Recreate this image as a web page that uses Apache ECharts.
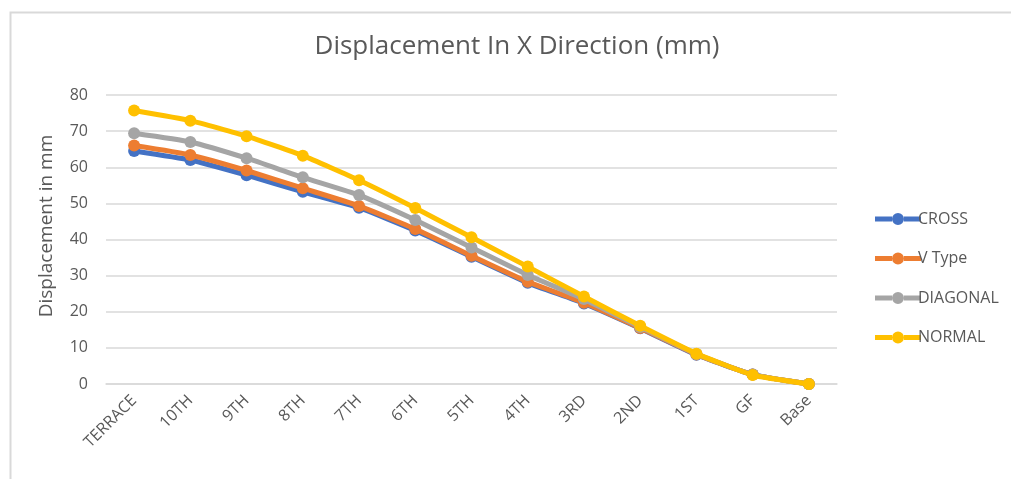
<!DOCTYPE html>
<html>
<head>
<meta charset="utf-8">
<script src="https://cdn.jsdelivr.net/npm/echarts@6/dist/echarts.min.js"></script>
<style>
html,body{margin:0;padding:0;background:#fff;}
#main{width:1011px;height:479px;}
</style>
</head>
<body>
<div id="main"></div>
<script>
// floors, top to bottom
var floors = ['TERRACE','10TH','9TH','8TH','7TH','6TH','5TH','4TH','3RD','2ND','1ST','GF','Base'];
var yTicks = [0,10,20,30,40,50,60,70,80];

// displacement values (mm)
var crossVals    = [64.5, 62.0, 57.8, 53.2, 48.8, 42.5, 35.2, 28.0, 22.3, 15.4, 8.1, 2.6, 0];
var vTypeVals    = [66.0, 63.4, 59.1, 54.2, 49.3, 42.9, 35.5, 28.3, 22.5, 15.5, 8.2, 2.6, 0];
var diagonalVals = [69.4, 67.0, 62.5, 57.2, 52.3, 45.4, 37.8, 30.2, 23.5, 15.8, 8.3, 2.6, 0];
var normalVals   = [75.7, 72.9, 68.6, 63.2, 56.4, 48.7, 40.6, 32.5, 24.2, 16.1, 8.4, 2.5, 0];

var seriesNames = ['CROSS','V Type','DIAGONAL','NORMAL'];
var seriesColors = ['#4472C4','#ED7D31','#A5A5A5','#FFC000'];
var seriesData = [crossVals, vTypeVals, diagonalVals, normalVals];

var font = '"Open Sans", Lato, sans-serif';
var textColor = '#595959';
// legend marker: thick line with a dot in the middle
var legendIcon = 'path://M0,3.5 L17,3.5 L17,8.5 L0,8.5 Z M29,3.5 L46,3.5 L46,8.5 L29,8.5 Z M29,6 A6,6 0 1,1 17,6 A6,6 0 1,1 29,6 Z';

var myChart = echarts.init(document.getElementById('main'));

var series = seriesNames.map(function(n, i){
	return {
		name: n,
		type: 'line',
		data: seriesData[i],
		symbol: 'circle',
		symbolSize: 12,
		smooth: 0.15,
		lineStyle: {width: 5, color: seriesColors[i]},
		itemStyle: {color: seriesColors[i]},
		z: 2 + i
	};
});

var option = {
	backgroundColor: '#fff',
	animation: false,
	legend: {
		orient: 'vertical',
		left: 870,
		top: 206,
		itemGap: 23.5,
		itemWidth: 46,
		itemHeight: 12,
		textStyle: {color: textColor, fontSize: 16, fontFamily: font, padding: [0,0,0,-8]},
		data: seriesNames.map(function(n){ return {name: n, icon: legendIcon}; })
	},
	grid: {left: 106, right: 174, top: 95, bottom: 95},
	xAxis: {
		type: 'category',
		data: floors,
		boundaryGap: true,
		axisLine: {show: true, lineStyle: {color: '#d9d9d9', width: 1.5}},
		axisTick: {show: false},
		axisLabel: {rotate: 45, color: textColor, fontSize: 16, fontFamily: font, margin: 14, interval: 0}
	},
	yAxis: {
		type: 'value',
		min: yTicks[0],
		max: yTicks[yTicks.length-1],
		interval: 10,
		axisLine: {show: false},
		axisTick: {show: false},
		splitLine: {lineStyle: {color: '#d9d9d9', width: 1.5}},
		axisLabel: {color: textColor, fontSize: 16, fontFamily: font, margin: 18}
	},
	graphic: [
		{type: 'rect', left: 8, top: 10, shape: {width: 1100, height: 600}, style: {fill: 'none', stroke: '#d9d9d9', lineWidth: 2}, silent: true},
		// chart title, centred where the original sits
		{type: 'text', x: 517, y: 47,
		 style: {text: 'Displacement In X Direction (mm)', fill: textColor, font: '26px ' + font, textAlign: 'center', textVerticalAlign: 'middle'}},
		{type: 'text', x: 47, y: 226, rotation: Math.PI/2,
		 style: {text: 'Displacement in mm', fill: textColor, font: '19px ' + font, textAlign: 'center', textVerticalAlign: 'middle'}}
	],
	series: series
};
myChart.setOption(option);
</script>
</body>
</html>
